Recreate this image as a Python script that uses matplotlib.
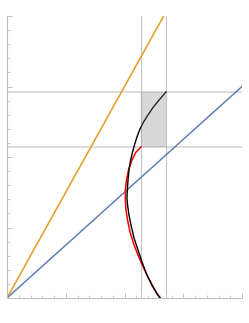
import matplotlib
matplotlib.use("Agg")
import matplotlib.pyplot as plt
import numpy as np

# straight lines through the origin (slopes)
orange_slope = 1.5
blue_slope = 0.75

# reference window
x_lo, x_hi = 1.140, 1.353
y_lo, y_hi = 1.071, 1.461

# black curve
black_x = [1.353, 1.294, 1.243, 1.200, 1.162, 1.132, 1.106, 1.085, 1.066, 1.051, 1.038,
           1.030, 1.024, 1.021, 1.026, 1.038, 1.055, 1.081, 1.115, 1.149, 1.191, 1.234,
           1.268, 1.302]
black_y = [1.461, 1.404, 1.351, 1.298, 1.248, 1.199, 1.142, 1.085, 1.028, 0.972, 0.908,
           0.837, 0.766, 0.709, 0.660, 0.589, 0.518, 0.426, 0.340, 0.255, 0.163, 0.092,
           0.043, 0.0]

# red curve
red_x = [1.140, 1.098, 1.064, 1.034, 1.017, 1.007, 1.007, 1.013, 1.026, 1.047, 1.081,
         1.115, 1.140, 1.191, 1.234, 1.268, 1.302]
red_y = [1.071, 1.035, 0.979, 0.908, 0.837, 0.766, 0.695, 0.624, 0.553, 0.468, 0.376,
         0.305, 0.255, 0.163, 0.092, 0.043, 0.0]

fig = plt.figure(figsize=(2.49, 3.23), dpi=100)
ax = fig.add_axes([7 / 249, 25 / 323, 235 / 249, 282 / 323])
ax.set_xlim(0, 2)
ax.set_ylim(0, 2)

# grid lines
for yv in (y_lo, y_hi):
    ax.axhline(yv, color="#dcdcdc", lw=1.4, zorder=1)
for xv in (x_lo, x_hi):
    ax.axvline(xv, color="#c4c4c4", lw=0.8, zorder=1)

xs = np.array([0, 2])
ax.plot(xs, orange_slope * xs, color="#E19C24", lw=1.1, zorder=2)
ax.plot(xs, blue_slope * xs, color="#5E81B5", lw=1.1, zorder=2)

ax.plot(red_x, red_y, color="red", lw=1.1, zorder=3, solid_joinstyle="round")
ax.plot(black_x, black_y, color="black", lw=1.0, zorder=4, solid_joinstyle="round")

# shaded window drawn over the curve
ax.fill_between([x_lo, x_hi], y_lo, y_hi, color="0.5", alpha=0.3, lw=0, zorder=5)

for side in ("top", "right"):
    ax.spines[side].set_visible(False)
for side in ("left", "bottom"):
    ax.spines[side].set_color("#c0c0c0")
    ax.spines[side].set_linewidth(0.8)

ax.set_xticks(np.arange(0, 2.01, 0.5))
ax.set_yticks(np.arange(0, 2.01, 0.5))
ax.set_xticks(np.arange(0, 2.01, 0.1), minor=True)
ax.set_yticks(np.arange(0, 2.01, 0.1), minor=True)
ax.tick_params(which="both", direction="in", color="#c0c0c0", labelbottom=False, labelleft=False)
ax.tick_params(which="major", length=3.5, width=0.7)
ax.tick_params(which="minor", length=2, width=0.6)

fig.savefig("out.png", dpi=100)
